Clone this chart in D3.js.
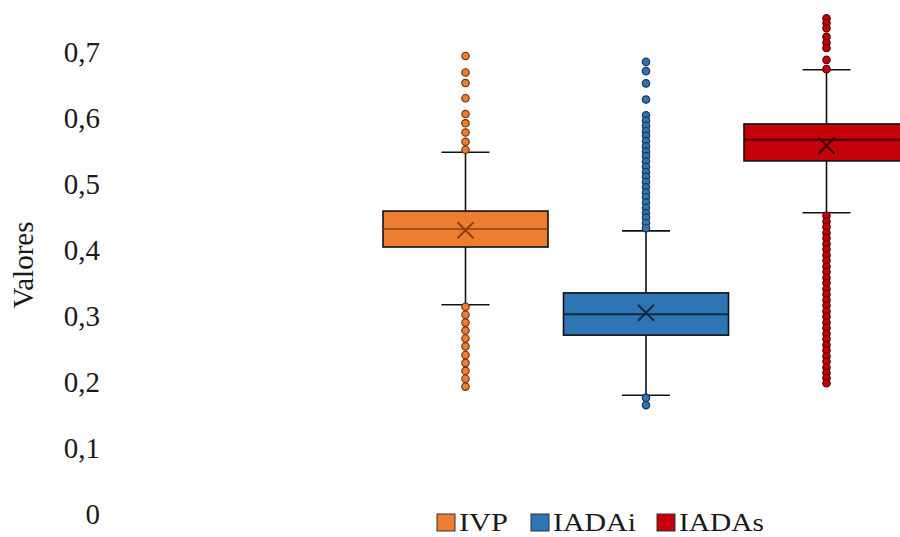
<!DOCTYPE html>
<html>
<head>
<meta charset="utf-8">
<script src="https://cdn.jsdelivr.net/npm/d3@7"></script>
<style>
  html, body { margin: 0; padding: 0; background: #fff; }
  svg { display: block; }
</style>
</head>
<body>
<svg id="chart" width="900" height="537"></svg>
<script>
// Series (box-plot summaries per index)
const categories = ["IVP", "IADAi", "IADAs"];
const q1Values      = [0.4045, 0.271, 0.535];
const medianValues  = [0.432, 0.3025, 0.567];
const q3Values      = [0.459, 0.335, 0.591];
const meanValues    = [0.430, 0.305, 0.558];
const whiskerLow    = [0.317, 0.180, 0.4565];
const whiskerHigh   = [0.548, 0.429, 0.673];
const outliersIVP = [0.694, 0.669, 0.653, 0.630, 0.606, 0.592, 0.578, 0.564, 0.552,
  0.314, 0.302, 0.290, 0.278, 0.266, 0.254, 0.241, 0.229, 0.217, 0.205, 0.193];
const outliersIADAi = [0.685, 0.671, 0.6525, 0.628, 0.604, 0.596, 0.588, 0.580, 0.573,
  0.565, 0.557, 0.549, 0.542, 0.534, 0.526, 0.518, 0.511, 0.503, 0.495, 0.487, 0.480,
  0.472, 0.464, 0.456, 0.449, 0.441, 0.433, 0.176, 0.165];
const outliersIADAs = [0.751, 0.744, 0.736, 0.723, 0.714, 0.706, 0.688, 0.674,
  0.452, 0.443, 0.435, 0.426, 0.418, 0.409, 0.401, 0.392, 0.384, 0.375, 0.367, 0.358,
  0.350, 0.341, 0.333, 0.324, 0.316, 0.307, 0.299, 0.290, 0.282, 0.273, 0.265, 0.256,
  0.248, 0.239, 0.231, 0.222, 0.214, 0.206, 0.198];
const outlierLists = [outliersIVP, outliersIADAi, outliersIADAs];
const yTicks = [0, 0.1, 0.2, 0.3, 0.4, 0.5, 0.6, 0.7];
const yLabel = "Valores";

// Styling
const fills   = ["#ED7D31", "#2E75B6", "#C50008"];
const accents = ["#8E3E12", "#14283F", "#3A0000"];
const dotStroke = ["#6E3410", "#1B3553", "#5A0000"];
const legendWidths = [49, 83, 85];

const svg = d3.select("#chart");
const font = "'Liberation Serif', 'Times New Roman', serif";

const y = d3.scaleLinear().domain([0, 0.8]).range([514, -14]);
const x = d3.scalePoint().domain(categories).range([465.5, 826.5]);
const boxW = 165, capW = 48;

// Y axis: labels only
const yAxis = d3.axisLeft(y)
  .tickValues(yTicks)
  .tickSize(0)
  .tickPadding(0)
  .tickFormat(d => d === 0 ? "0" : d3.format(".1f")(d).replace(".", ","));
const gAxis = svg.append("g").attr("transform", "translate(100,0)").call(yAxis);
gAxis.select(".domain").remove();
gAxis.selectAll("text")
  .attr("font-family", font)
  .attr("font-size", 29)
  .attr("fill", "#1a1a1a");

svg.append("text")
  .attr("transform", "translate(33,265) rotate(-90)")
  .attr("text-anchor", "middle")
  .attr("font-family", font)
  .attr("font-size", 29)
  .attr("fill", "#1a1a1a")
  .text(yLabel);

const plot = svg.append("g");

categories.forEach((c, i) => {
  const cx = x(c);
  const g = plot.append("g");

  // whisker stem
  g.append("line")
    .attr("x1", cx).attr("x2", cx)
    .attr("y1", y(whiskerHigh[i])).attr("y2", y(whiskerLow[i]))
    .attr("stroke", "#111").attr("stroke-width", 1.6);
  // caps
  [whiskerHigh[i], whiskerLow[i]].forEach(v => {
    g.append("line")
      .attr("x1", cx - capW / 2).attr("x2", cx + capW / 2)
      .attr("y1", y(v)).attr("y2", y(v))
      .attr("stroke", "#111").attr("stroke-width", 1.6);
  });
  // box
  g.append("rect")
    .attr("x", cx - boxW / 2)
    .attr("y", y(q3Values[i]))
    .attr("width", boxW)
    .attr("height", y(q1Values[i]) - y(q3Values[i]))
    .attr("fill", fills[i])
    .attr("stroke", "#111").attr("stroke-width", 1.6);
  // median
  g.append("line")
    .attr("x1", cx - boxW / 2).attr("x2", cx + boxW / 2)
    .attr("y1", y(medianValues[i])).attr("y2", y(medianValues[i]))
    .attr("stroke", accents[i]).attr("stroke-width", i === 0 ? 1.5 : 2);
  // mean marker (x)
  const my = y(meanValues[i]), s = 8;
  g.append("path")
    .attr("d", `M${cx - s},${my - s}L${cx + s},${my + s}M${cx - s},${my + s}L${cx + s},${my - s}`)
    .attr("stroke", accents[i]).attr("stroke-width", 2).attr("fill", "none");
  // outliers
  g.selectAll("circle")
    .data(outlierLists[i])
    .join("circle")
    .attr("cx", cx)
    .attr("cy", d => y(d))
    .attr("r", 3.7)
    .attr("fill", fills[i])
    .attr("stroke", dotStroke[i])
    .attr("stroke-width", 1.2);
});

// Legend
const legendX = [437, 531, 657];
const legend = svg.append("g");
categories.forEach((c, i) => {
  legend.append("rect")
    .attr("x", legendX[i]).attr("y", 514)
    .attr("width", 18).attr("height", 17)
    .attr("fill", fills[i])
    .attr("stroke", "#333").attr("stroke-width", 1);
  legend.append("text")
    .attr("x", legendX[i] + 22).attr("y", 531)
    .attr("font-family", font)
    .attr("font-size", 25)
    .attr("fill", "#1a1a1a")
    .attr("textLength", legendWidths[i])
    .attr("lengthAdjust", "spacingAndGlyphs")
    .text(c);
});
</script>
</body>
</html>
